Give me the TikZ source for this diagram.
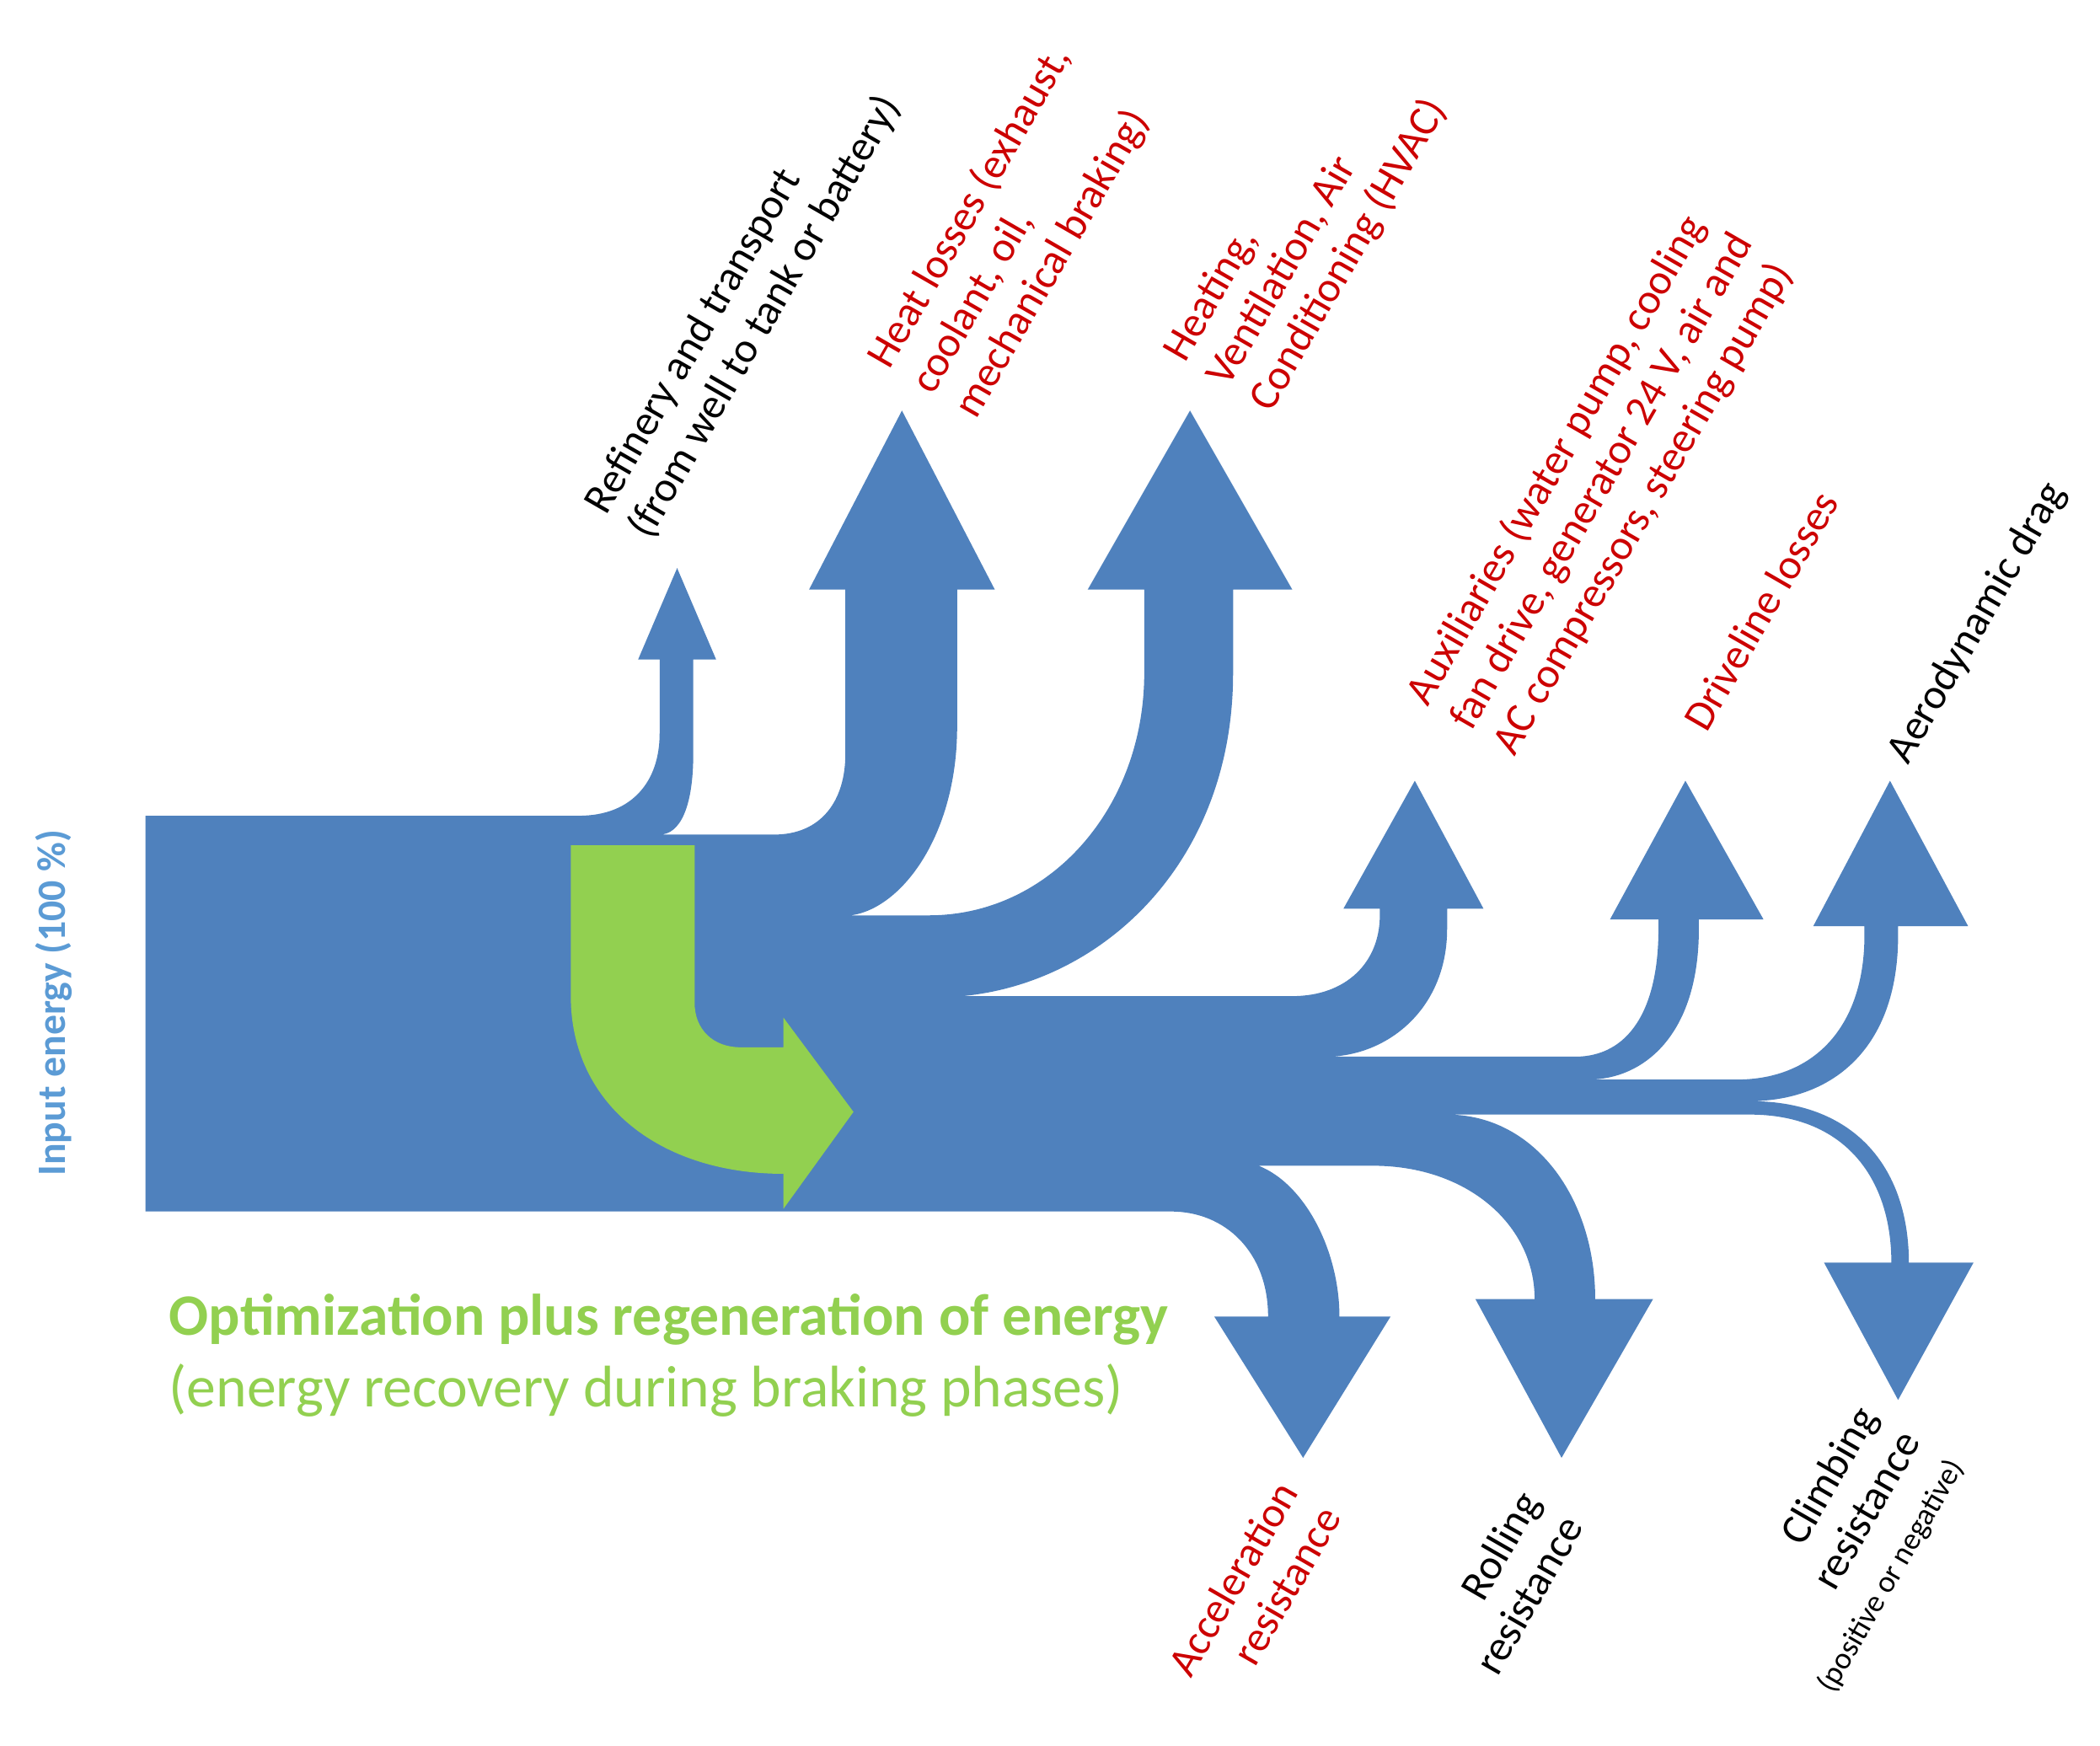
\documentclass[tikz,border=0pt]{standalone}
\usepackage{fontspec}
\setmainfont{Carlito}
\begin{document}
\begin{tikzpicture}[x=0.01cm,y=-0.01cm,
  lbl/.style={font=\fontsize{9}{10.5}\selectfont,rotate=60,inner sep=0pt},
  up/.style={lbl,anchor=west,align=left},
  dn/.style={lbl,anchor=east,align=right},
  red/.style={text=myred},blk/.style={text=black}]
\definecolor{myblue}{HTML}{4F81BD}
\definecolor{mygreen}{HTML}{92D050}
\definecolor{myred}{HTML}{CC0000}
\definecolor{lblue}{HTML}{5B9BD5}
\useasboundingbox (0,0) rectangle (1560,1297);
\fill[myblue] (108,606) -- (430,606) .. controls (470,606) and (490,580) .. (490,545) -- (490,490) -- (474,490) -- (503,422) -- (532,490) -- (515,490) -- (515,560) .. controls (515,600) and (505,620) .. (490,620)
 -- (575,620) .. controls (610,620) and (628,595) .. (628,560) -- (628,438) -- (601,438) -- (670,305) -- (739,438) -- (711,438) -- (711,540) .. controls (711,620) and (670,675) .. (632,680)
 -- (690,680) .. controls (780,680) and (850,600) .. (850,500) -- (850,438) -- (808,438) -- (884,305) -- (960,438) -- (916,438) -- (916,500) .. controls (916,640) and (820,730) .. (715,740)
 -- (960,740) .. controls (1000,740) and (1025,715) .. (1025,680) -- (1025,675) -- (998,675) -- (1051,580) -- (1102,675) -- (1075,675) -- (1075,690) .. controls (1075,750) and (1030,785) .. (985,785)
 -- (1170,785) .. controls (1210,785) and (1232,750) .. (1232,690) -- (1232,683) -- (1196,683) -- (1252,580) -- (1310,683) -- (1262,683) -- (1262,690) .. controls (1262,770) and (1220,802) .. (1180,802)
 -- (1290,802) .. controls (1350,802) and (1385,760) .. (1385,695) -- (1385,688) -- (1347,688) -- (1404,580) -- (1462,688) -- (1410,688) -- (1410,695) .. controls (1410,780) and (1360,818) .. (1300,818)
 .. controls (1380,818) and (1418,870) .. (1418,938) -- (1466,938) -- (1410,1040) -- (1355,938) -- (1405,938) .. controls (1405,875) and (1370,828) .. (1300,828)
 -- (1075,828) .. controls (1140,828) and (1185,890) .. (1185,965) -- (1228,965) -- (1160,1083) -- (1096,965) -- (1140,965) .. controls (1140,910) and (1090,866) .. (1020,866)
 -- (935,866) .. controls (970,880) and (995,930) .. (995,978) -- (1033,978) -- (968,1083) -- (902,978) -- (942,978) .. controls (942,930) and (910,900) .. (870,900) -- (108,900) -- cycle;
\fill[mygreen] (424,628) -- (424,740) .. controls (424,820) and (490,872) .. (582,872) -- (582,898) -- (634,826) -- (582,756) -- (582,778) -- (550,778) .. controls (530,778) and (516,765) .. (516,745) -- (516,628) -- cycle;
\node[font=\bfseries\fontsize{8.5}{10}\selectfont,text=lblue,rotate=90] (in) at (40,745) {Input energy (100 \%)};
\node[up,blk] (ref) at (459,389) {Refinery and transport\\(from well to tank or battery)};
\node[up,red] (heat) at (685,290) {Heat losses (exhaust,\\coolant, oil,\\mechanical braking)};
\node[up,red] (hvac) at (905,285) {Heating,\\Ventilation, Air\\Conditioning (HVAC)};
\node[up,red] (aux) at (1085,540) {Auxiliaries (water pump, cooling\\fan drive, generator 24 V, air and\\AC compressors, steering pump)};
\node[up,red] (drv) at (1258,540) {Driveline losses};
\node[up,blk] (aero) at (1410,565) {Aerodynamic drag};
\node[dn,red] (acc) at (972,1112) {Acceleration\\resistance};
\node[dn,blk] (roll) at (1152,1119) {Rolling\\resistance};
\node[dn,blk] (climb) at (1420,1066) {Climbing\\resistance\\{\fontsize{6.5}{8}\selectfont(positive or negative)}};
\node[anchor=west,text=mygreen,font=\bfseries\fontsize{12.4}{14}\selectfont,inner sep=0pt] (opt) at (125,980) {Optimization plus regeneration of energy};
\node[anchor=west,text=mygreen,font=\fontsize{12.4}{14}\selectfont,inner sep=0pt] (rec) at (125,1033) {(energy recovery during braking phases)};
\end{tikzpicture}
\end{document}
